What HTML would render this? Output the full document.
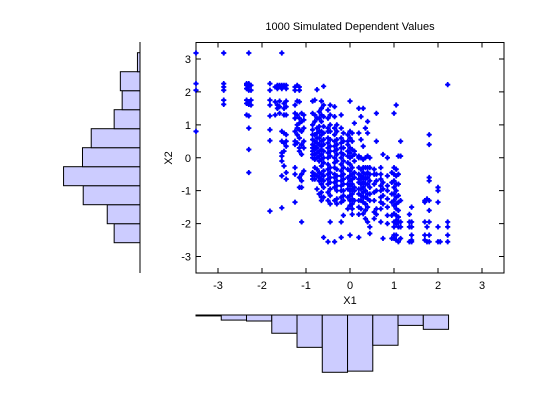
<!DOCTYPE html>
<html><head><meta charset="utf-8">
<style>
html,body{margin:0;padding:0;background:#fff;}
svg{display:block;font-family:"Liberation Sans",sans-serif;}
</style></head>
<body>
<svg id="chart" width="560" height="420" viewBox="0 0 560 420" xmlns="http://www.w3.org/2000/svg">
<rect width="560" height="420" fill="#fff"/>
<g id="leftHist"></g>
<g id="bottomHist"></g>
<g id="main"></g>
</svg>
<script>
const xTicks = [-3,-2,-1,0,1,2,3];
const yTicks = [-3,-2,-1,0,1,2,3];
const x2Counts = [71,90,156,210,158,134,71,49,54,7]; // bins from y=-2.58 upward
const x1Counts = [4,22,26,79,140,248,243,131,45,62]; // bins from x=-3.5
const x1BinStart = -3.5, x1BinWidth = 0.574;
const x2BinStart = -2.58, x2BinWidth = 0.577;
const scatterCols = [
[-3.5,[3.18,2.25,2.05,0.8]],
[-2.87,[3.18,2.25,2.15,2.05,1.75,1.62]],
[-2.35,[2.25,2.2,2.1,1.75,1.65,1.3]],
[-2.3,[3.18,2.25,2.15,2.05,1.7,1.62,1.27,0.9,0.25,-0.45]],
[-2.25,[2.2,2.05,1.75,1.6]],
[-1.82,[2.25,2.05,1.75,1.6,1.27,0.85,0.52,-1.62]],
[-1.7,[2.15,1.7,1.3]],
[-1.65,[2.2,2.1,1.6,1.5]],
[-1.6,[2.2,2.15,1.72,1.55,1.35]],
[-1.55,[3.18,2.2,2.1,0.8,0.5,0.15,0.05,-0.1,-0.55,-1.52]],
[-1.5,[2.2,2.15,1.65,1.5,1.3,0.75,0.45,0.2,-0.25]],
[-1.45,[2.2,2.1,1.72,1.55,1.3,0.7,0.5,0.35,-0.45,-0.65]],
[-1.25,[2.15,2.05,1.6,1.35,1.2,0.8,0.5,0.4,-0.3,-0.5,-1.35]],
[-1.2,[2.2,1.72,1.3,1.0,0.9,0.7,0.45]],
[-1.15,[2.15,2.05,1.7,1.2,1.05,0.85,0.6,0.3,0.2,-0.6,-0.9]],
[-1.1,[1.35,1.1,0.8,0.4,0.1,-0.5,-0.7,-0.9,-1.95]],
[-1.05,[1.3,1.15,0.9,0.5,0.3,-0.4]],
[-0.85,[1.72,1.35,1.0,0.85,0.7,0.55,0.4,0.3,0.2,0.1,0.0,-0.45,-0.55,-0.65]],
[-0.8,[1.75,1.3,1.1,0.7,0.5,0.35,0.25,0.1,-0.05,-0.3,-0.5,-0.65]],
[-0.75,[2.07,1.2,0.9,0.75,0.6,0.45,0.3,0.15,0.0,-0.35,-0.55,-0.95]],
[-0.7,[1.4,1.2,0.95,0.8,0.6,0.4,0.2,0.05,-0.1,-0.45,-0.6,-0.7,-1.1]],
[-0.65,[1.72,1.5,1.3,1.1,0.8,0.7,0.5,0.35,0.25,0.1,-0.05,-0.25,-0.5,-0.65,-0.8,-1.05,-1.2,-1.3]],
[-0.6,[2.17,1.6,1.25,0.95,0.75,0.55,0.4,0.2,0.0,-0.15,-0.4,-0.55,-0.7,-0.9,-1.2,-2.42]],
[-0.5,[1.45,1.2,0.9,0.8,0.6,0.45,0.3,0.15,0.0,-0.2,-0.35,-0.5,-0.65,-0.8,-1.05,-1.3,-2.55]],
[-0.45,[1.6,1.3,1.0,0.8,0.55,0.35,0.2,0.05,-0.3,-0.45,-0.6,-0.75,-0.95,-1.15,-1.4,-1.95]],
[-0.35,[1.55,1.25,0.9,0.7,0.5,0.35,0.2,0.0,-0.15,-0.3,-0.5,-0.6,-0.75,-0.9,-1.3,-2.55]],
[-0.3,[1.0,0.8,0.55,0.4,0.25,0.1,-0.1,-0.35,-0.55,-0.7,-0.85,-1.0,-1.25,-1.4]],
[-0.2,[1.3,0.9,0.6,0.45,0.3,0.15,0.0,-0.2,-0.4,-0.55,-0.7,-0.85,-1.0,-1.2,-1.35,-1.95,-2.42]],
[-0.15,[0.75,0.5,0.3,0.1,-0.1,-0.3,-0.5,-0.65,-0.8,-1.0,-1.15,-1.3,-1.75]],
[-0.05,[0.7,0.5,0.4,0.2,0.05,-0.15,-0.35,-0.6,-0.8,-0.95,-1.2,-1.55]],
[0.0,[1.72,0.8,0.6,0.3,0.15,0.0,-0.2,-0.4,-0.55,-0.7,-0.85,-1.0,-1.15,-1.3,-1.45,-2.35]],
[0.05,[0.75,0.5,0.25,0.05,-0.3,-0.5,-0.65,-0.8,-0.95,-1.1,-1.25,-1.4,-1.55,-1.72]],
[0.1,[1.05,0.2,0.1,-0.1,-0.45,-0.6,-0.9,-1.0,-1.3]],
[0.2,[1.5,0.75,0.05,0.0,-0.3,-0.5,-0.65,-0.75,-0.95,-1.1,-1.3,-1.5,-1.72,-2.42]],
[0.25,[1.25,0.55,0.0,-0.35,-0.55,-0.65,-0.8,-0.95,-1.15,-1.3,-1.55]],
[0.3,[1.5,0.35,-0.05,-0.3,-0.45,-0.6,-0.75,-0.9,-1.05,-1.2,-1.35,-1.7]],
[0.35,[0.9,0.0,-0.3,-0.5,-0.65,-0.8,-1.0,-1.2,-1.4,-1.6,-1.85]],
[0.4,[1.1,0.75,0.05,-0.3,-0.45,-0.6,-0.8,-1.1,-1.25,-1.5,-1.95]],
[0.45,[0.0,-0.3,-0.5,-0.7,-0.9,-1.1,-1.3,-2.1,-2.3]],
[0.55,[-0.35,-0.5,-0.8,-1.05,-1.3,-1.65,-1.85]],
[0.6,[1.35,0.5,-0.5,-0.7,-1.0,-1.55,-1.72]],
[0.7,[-0.3,-0.5,-0.65,-0.85,-1.0,-1.2,-1.35,-1.55,-1.95]],
[0.75,[0.1,-0.75,-0.95,-1.15,-1.4,-2.45]],
[0.85,[0.0,-0.55,-0.85,-1.0,-1.25,-1.5,-1.75,-2.0]],
[0.95,[-0.45,-0.75,-1.1,-1.35,-1.75,-2.45]],
[1.0,[1.35,-0.3,-0.5,-0.7,-0.9,-1.1,-1.3,-1.45,-1.7,-1.95,-2.1,-2.35,-2.45]],
[1.05,[1.6,-0.35,-0.55,-0.8,-1.0,-1.2,-1.4,-1.55,-1.75,-1.9,-2.0,-2.35,-2.5]],
[1.1,[0.05,-0.5,-0.8,-1.15,-1.35,-1.6,-1.8,-1.95,-2.1,-2.55]],
[1.15,[0.5,0.05,-1.3,-1.95,-2.1,-2.45]],
[1.35,[-1.72,-1.95,-2.1,-2.55]],
[1.4,[-1.5,-1.95,-2.1,-2.35,-2.5,-2.55]],
[1.7,[-1.3,-1.35,-1.95,-2.35,-2.5]],
[1.75,[-1.25,-2.1,-2.55]],
[1.8,[0.7,0.4,-0.6,-0.7,-1.3,-1.6,-1.95,-2.35,-2.55]],
[2.0,[-0.9,-1.0,-1.35,-2.1,-2.55]],
[2.05,[-2.55]],
[2.22,[2.22,-1.95,-2.1,-2.35,-2.55]]
];

const NS = "http://www.w3.org/2000/svg";
const AX = {l:196, r:504, t:42.5, b:273, min:-3.5, max:3.5};
function sx(v){return AX.l + (v-AX.min)/(AX.max-AX.min)*(AX.r-AX.l);}
function sy(v){return AX.b - (v-AX.min)/(AX.max-AX.min)*(AX.b-AX.t);}
function mk(tag, attrs, parent){
  const e = document.createElementNS(NS, tag);
  for (const k in attrs) e.setAttribute(k, attrs[k]);
  parent.appendChild(e); return e;
}
const main = document.getElementById('main');
const box = mk('rect',{x:AX.l,y:AX.t,width:AX.r-AX.l,height:AX.b-AX.t,fill:'#fff',stroke:'#000','stroke-width':1},main);



const pts = mk('g',{fill:'#0000ff',stroke:'#0000ff'},main);


scatterCols.forEach(c=>{
  c[1].forEach(yv=>{
    const px = sx(c[0]), py = sy(yv);
    const p = mk('path',{d:`M${px-2.6},${py}H${px+2.6}M${px},${py-2.6}V${py+2.6}`,'stroke-width':1.7},pts);
    
    
    const c2 = mk('circle',{cx:px,cy:py,r:1.8,stroke:'none'},pts);
    
    
  });
});

xTicks.forEach(t=>{
  const x = sx(t);
  mk('path',{d:`M${x},${AX.b}V${AX.b-5}M${x},${AX.t}V${AX.t+5}`,stroke:'#000','stroke-width':1},main);
  const tx = mk('text',{x:x,y:AX.b+16,'text-anchor':'middle','font-size':11,fill:'#000'},main);
  tx.textContent = t;
  
  
});
yTicks.forEach(t=>{
  const y = sy(t);
  mk('path',{d:`M${AX.l},${y}H${AX.l+5}M${AX.r},${y}H${AX.r-5}`,stroke:'#000','stroke-width':1},main);
  const tx = mk('text',{x:AX.l-5,y:y+4,'text-anchor':'end','font-size':11,fill:'#000'},main);
  tx.textContent = t;
  
  
});
const title = mk('text',{x:350,y:30,'text-anchor':'middle','font-size':11,fill:'#000'},main);
title.textContent = '1000 Simulated Dependent Values';


const xl = mk('text',{x:350,y:304,'text-anchor':'middle','font-size':11,fill:'#000'},main);
xl.textContent = 'X1';


const yl = mk('text',{x:0,y:0,'text-anchor':'middle','font-size':11,fill:'#000',transform:'translate(172,158) rotate(-90)'},main);
yl.textContent = 'X2';



const lh = document.getElementById('leftHist');
const lScale = 0.364, lBase = 140;
x2Counts.forEach((c,i)=>{
  const y0 = sy(x2BinStart + (i+1)*x2BinWidth), y1 = sy(x2BinStart + i*x2BinWidth);
  const w = c*lScale;
  const r = mk('rect',{x:lBase-w,y:y0,width:w,height:y1-y0,fill:'#ccccff',stroke:'#000','stroke-width':1},lh);
  
  
});
const la = mk('line',{x1:lBase,y1:42,x2:lBase,y2:273,stroke:'#000','stroke-width':1},lh);



const bh = document.getElementById('bottomHist');
const bScale = 0.231, bBase = 315;
x1Counts.forEach((c,i)=>{
  const x0 = sx(x1BinStart + i*x1BinWidth), x1 = sx(x1BinStart + (i+1)*x1BinWidth);
  const h = c*bScale;
  const r = mk('rect',{x:x0,y:bBase,width:x1-x0,height:h,fill:'#ccccff',stroke:'#000','stroke-width':1},bh);
  
  
});
</script>
</body></html>
